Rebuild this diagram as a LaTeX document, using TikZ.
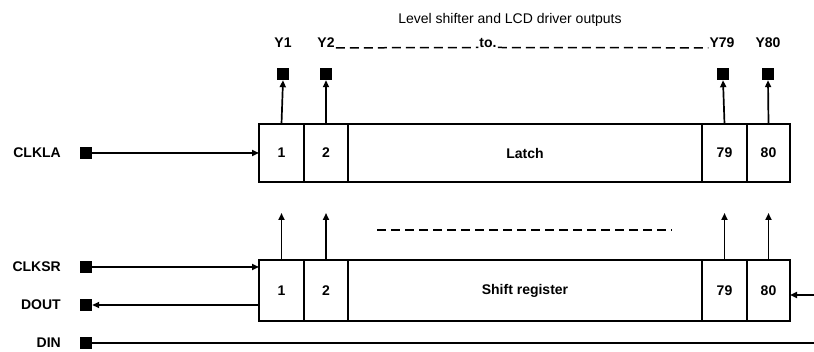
\documentclass[tikz,border=0pt]{standalone}
\usepackage{fontspec}
\setmainfont{Liberation Sans}
\usetikzlibrary{arrows.meta,positioning}
\tikzset{
  cell/.style={draw, line width=1.8pt, inner sep=0, outer sep=0, minimum height=58pt},
  srcell/.style={cell, minimum height=61pt},
  pin/.style={fill, minimum size=12pt, inner sep=0},
  sig/.style={line width=1.7pt, -{Triangle[length=7pt,width=6pt]}},
  gap/.style={line width=1.5pt, dash pattern=on 9pt off 5pt},
  lbl/.style={inner sep=1pt}
}
\begin{document}
\begin{tikzpicture}[x=1pt, y=-1pt, font=\fontsize{14}{16}\selectfont\bfseries]
\useasboundingbox (0,0) rectangle (814,352);
% title and outputs
\node[lbl, font=\fontsize{14}{16}\selectfont] (title) at (510,20) {Level shifter and LCD driver outputs};
\node[lbl] (y1) at (283,43) {Y1};
\node[lbl] (y2) at (326,43) {Y2};
\node[lbl] (to) at (488,43) {to.};
\node[lbl] (y79) at (722,43) {Y79};
\node[lbl] (y80) at (768,43) {Y80};
\draw[gap] (y2.base east) -- (to.base west);
\draw[gap] (to.base east) -- (y79.base west);
\node[pin] (p1) at (283,74) {};
\node[pin] (p2) at (326,74) {};
\node[pin] (p79) at (723,74) {};
\node[pin] (p80) at (768,74) {};
% latch
\node[cell, minimum width=45pt, anchor=north west] (l1) at (259,124) {1};
\node[cell, minimum width=44pt, right=0pt of l1] (l2) {2};
\node[cell, minimum width=354pt, right=0pt of l2] (lm) {Latch};
\node[cell, minimum width=45pt, right=0pt of lm] (l79) {79};
\node[cell, minimum width=43pt, right=0pt of l79] (l80) {80};
% shift register
\node[srcell, minimum width=45pt, anchor=north west] (s1) at (259,260) {1};
\node[srcell, minimum width=44pt, right=0pt of s1] (s2) {2};
\node[srcell, minimum width=354pt, right=0pt of s2] (sm) {Shift register};
\node[srcell, minimum width=45pt, right=0pt of sm] (s79) {79};
\node[srcell, minimum width=43pt, right=0pt of s79] (s80) {80};
\foreach \c in {1,2,79,80} {
  \draw[sig] (l\c.north) -- (p\c.south);
  \coordinate (u\c) at ([yshift=47pt]s\c.north);
  \draw[sig] (s\c.north) -- (u\c);
}
\coordinate (dl) at (377,230);
\coordinate (dr) at (672,230);
\draw[gap] (dl) -- (dr);
% inputs and outputs on the left
\node[lbl, anchor=east] (clkla) at (62,153) {CLKLA};
\node[pin] (clklapin) at (86,153) {};
\node[lbl, anchor=east] (clksr) at (62,267) {CLKSR};
\node[pin] (clksrpin) at (86,267) {};
\node[lbl, anchor=east] (dout) at (62,305) {DOUT};
\node[pin] (doutpin) at (86,305) {};
\node[lbl, anchor=east] (din) at (62,343) {DIN};
\node[pin] (dinpin) at (86,343) {};
\draw[sig] (clklapin) -- (l1.west);
\draw[sig] (clksrpin) -- (clksrpin -| s1.west);
\draw[sig] (s1.west |- doutpin) -- (doutpin);
\coordinate (dinend) at (814,343);
\draw[line width=1.7pt] (dinpin) -- (dinend);
\coordinate (dinin) at (814,295);
\draw[sig] (dinin) -- (dinin -| s80.east);
\end{tikzpicture}
\end{document}
